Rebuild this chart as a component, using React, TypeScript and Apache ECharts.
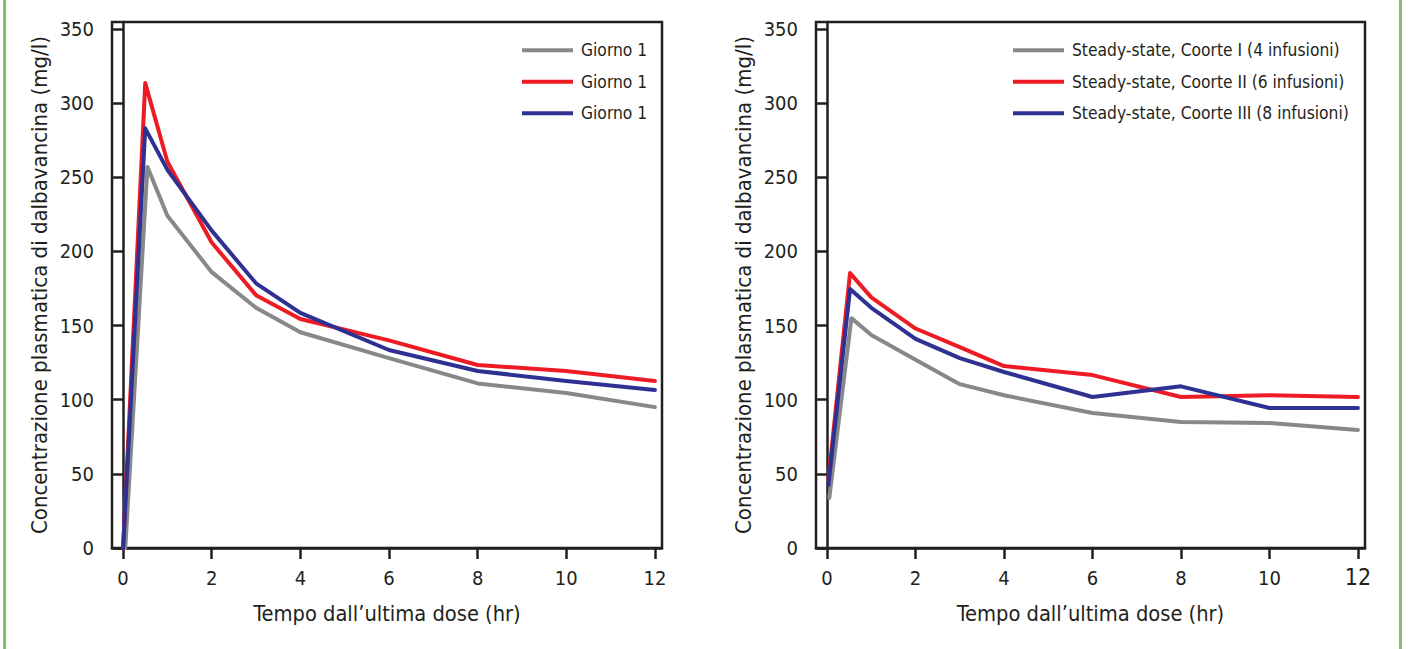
import React, { useEffect, useRef } from "react";
import * as echarts from "echarts";

const xTicks = [0, 2, 4, 6, 8, 10, 12];
const yTicks = [0, 50, 100, 150, 200, 250, 300, 350];

const leftGrayT = [0.05, 0.55, 1, 2, 3, 4, 6, 8, 10, 12];
const leftGray = [0, 257, 224, 186, 162, 145.5, 128, 111, 104.5, 95];
const leftRedT = [0, 0.5, 1, 2, 3, 4, 6, 8, 10, 12];
const leftRed = [0, 313.5, 260.5, 206, 170.5, 154.4, 140, 123.4, 119.4, 112.6];
const leftBlueT = [0, 0.5, 1, 2, 3, 4, 6, 8, 10, 12];
const leftBlue = [0, 283, 255, 214, 178.5, 158.5, 133.5, 119.4, 112.6, 106.5];

const rightGrayT = [0.05, 0.55, 1, 2, 3, 4, 6, 8, 10, 12];
const rightGray = [33.7, 155, 143.6, 127, 110.5, 103, 91, 85, 84.3, 79.6];
const rightRedT = [0.03, 0.52, 1, 2, 3, 4, 6, 8, 10, 12];
const rightRed = [46, 185.4, 169, 148, 135.5, 122.7, 116.6, 101.8, 103, 101.8];
const rightBlueT = [0.03, 0.52, 1, 2, 3, 4, 6, 8, 10, 12];
const rightBlue = [42.5, 174.6, 162, 141, 128, 118.7, 101.8, 109, 94.4, 94.4];

const leftNames = ["Giorno 1#a", "Giorno 1#b", "Giorno 1#c"];
const rightNames = [
  "Steady-state, Coorte I (4 infusioni)",
  "Steady-state, Coorte II (6 infusioni)",
  "Steady-state, Coorte III (8 infusioni)",
];

const xTitle = "Tempo dall’ultima dose (hr)";
const yTitle = "Concentrazione plasmatica di dalbavancina (mg/l)";

const GRAY = "#87888a";
const RED = "#ed1c24";
const BLUE = "#2e3192";
const INK = "#231f20";
const FONT = '"Liberation Sans Narrow", "DejaVu Sans Condensed", "Roboto", sans-serif';

function zip(t: number[], v: number[]) {
  return t.map((x, i) => [x, v[i]]);
}

export default function App() {
  const ref = useRef<HTMLDivElement>(null);
  useEffect(() => {
    document.body.style.margin = "0";
    const chart = echarts.init(ref.current!, null, { renderer: "svg" });
    const grids = [
      { left: 112, top: 22, width: 550, height: 526 },
      { left: 816, top: 22, width: 549, height: 526 },
    ];
    const xAxis = [0, 1].map((i) => ({
      type: "value",
      gridIndex: i,
      min: -0.25,
      max: 12.16,
      name: xTitle,
      nameLocation: "middle",
      nameGap: 54,
      nameTextStyle: { fontFamily: FONT, fontSize: 21.7, color: INK },
      axisLine: { show: true, lineStyle: { color: INK, width: 2.5 } },
      axisTick: { show: true, customValues: xTicks, length: 11, lineStyle: { color: INK, width: 2.5 } },
      axisLabel: {
        customValues: xTicks,
        margin: 20,
        fontFamily: FONT,
        fontSize: 20,
        color: INK,
        formatter: (v: number) => (i === 1 && v === 12 ? "{big|12}" : String(v)),
        rich: { big: { fontFamily: FONT, fontSize: 23, lineHeight: 17, color: INK } },
      },
      splitLine: { show: false },
    }));
    const yAxis = [0, 1].map((i) => ({
      type: "value",
      gridIndex: i,
      min: 0,
      max: 354.7,
      name: yTitle,
      nameLocation: "middle",
      nameGap: 62,
      nameRotate: 90,
      nameTextStyle: { fontFamily: FONT, fontSize: 22, color: INK },
      axisLine: { show: true, lineStyle: { color: INK, width: 2.5 } },
      axisTick: { show: true, customValues: yTicks, length: 10, lineStyle: { color: INK, width: 2.5 } },
      axisLabel: { customValues: yTicks, margin: 18, fontFamily: FONT, fontSize: 20, color: INK },
      splitLine: { show: false },
    }));
    const mk = (name: string, data: number[][], color: string, idx: number) => ({
      type: "line",
      name,
      xAxisIndex: idx,
      yAxisIndex: idx,
      data,
      color,
      symbol: "none",
      lineStyle: { color, width: 4, cap: "round", join: "round" },
    });
    const legendBase = {
      orient: "vertical",
      top: 36,
      icon: "rect",
      itemWidth: 51,
      itemHeight: 4,
      itemGap: 13,
      textStyle: { fontFamily: FONT, fontSize: 17.3, lineHeight: 18.5, color: INK, padding: [0, 0, 0, 3] },
      formatter: (n: string) => n.split("#")[0],
    };
    chart.setOption({
      animation: false,
      grid: grids.map((g) => ({ ...g, show: true, borderColor: INK, borderWidth: 2.5, backgroundColor: "transparent" })),
      xAxis,
      yAxis,
      legend: [
        { ...legendBase, left: 517, data: leftNames },
        { ...legendBase, left: 1008, data: rightNames },
      ],
      series: [
        mk(leftNames[0], zip(leftGrayT, leftGray), GRAY, 0),
        mk(leftNames[1], zip(leftRedT, leftRed), RED, 0),
        mk(leftNames[2], zip(leftBlueT, leftBlue), BLUE, 0),
        mk(rightNames[0], zip(rightGrayT, rightGray), GRAY, 1),
        mk(rightNames[1], zip(rightRedT, rightRed), RED, 1),
        mk(rightNames[2], zip(rightBlueT, rightBlue), BLUE, 1),
      ],
      graphic: [
        { type: "rect", left: 3, top: 0, shape: { width: 3, height: 649 }, style: { fill: "#7cc36b" } },
        { type: "rect", left: 1399, top: 0, shape: { width: 3, height: 649 }, style: { fill: "#7cc36b" } },
      ],
    });
    return () => chart.dispose();
  }, []);
  return <div ref={ref} style={{ width: 1408, height: 649 }} />;
}
